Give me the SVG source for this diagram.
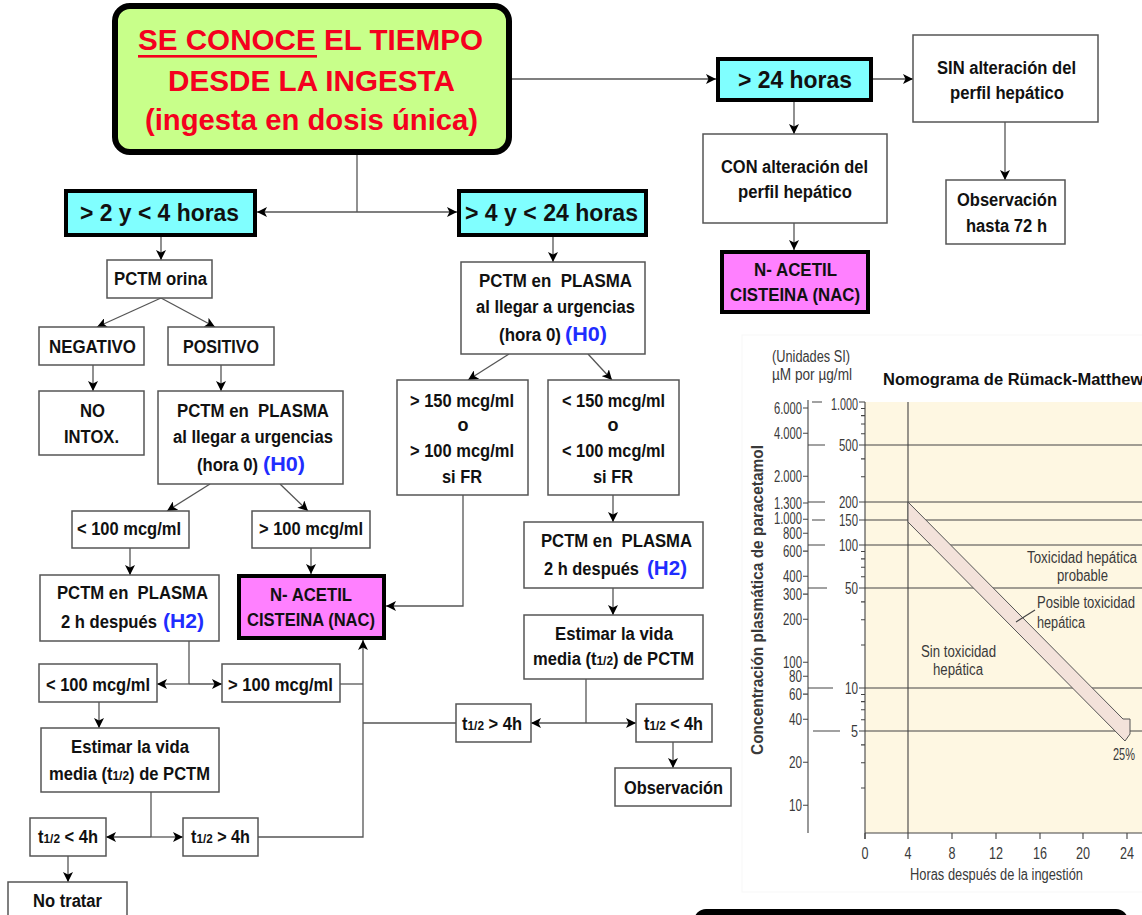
<svg xmlns="http://www.w3.org/2000/svg" width="1142" height="915" viewBox="0 0 1142 915">
<defs>
  <marker id="ah" viewBox="0 0 10 10" refX="10" refY="5" markerWidth="10" markerHeight="10" markerUnits="userSpaceOnUse" orient="auto">
    <path d="M0,0 L10,5 L0,10 L2.5,5 Z" fill="#000"/>
  </marker>
  <style>
    .box { fill:#fff; stroke:#555; stroke-width:1.5; }
    .cyan { fill:#80ffff; stroke:#000; stroke-width:4; }
    .nac { fill:#ff80ff; stroke:#000; stroke-width:4; }
    .t { font-family:"Liberation Sans Narrow","Liberation Sans",Arial,sans-serif; font-weight:700; font-size:18px; fill:#111; }
    .big { font-family:"Liberation Sans",Arial,sans-serif; font-weight:700; font-size:24px; fill:#111; }
    .hb { font-family:"Liberation Sans",Arial,sans-serif; font-weight:700; font-size:21px; fill:#1f2dff; }
    .ttl { font-family:"Liberation Sans",Arial,sans-serif; font-weight:700; font-size:30px; fill:#f5001e; }
    .c { fill:none; stroke:#555; stroke-width:1.3; }
    .a { fill:none; stroke:#555; stroke-width:1.3; marker-end:url(#ah); }
    .n { font-family:"Liberation Sans",Arial,sans-serif; font-size:16px; fill:#3a3a3a; }
    .g { fill:none; stroke:#444; stroke-width:1.1; }
  </style>
</defs>
<rect width="1142" height="915" fill="#fff"/>

<!-- connectors -->
<g id="connectors">
  <path class="a" d="M512,79 H716"/>
  <path class="a" d="M873,79 H913"/>
  <path class="a" d="M1005,122 V180"/>
  <path class="a" d="M794,102 V134"/>
  <path class="a" d="M794,223 V250"/>
  <path class="c" d="M357,155 V212"/>
  <path class="a" d="M357,212 H257"/>
  <path class="a" d="M357,212 H457"/>
  <path class="a" d="M161,237 V260"/>
  <path class="a" d="M161,298 L97,327"/>
  <path class="a" d="M161,298 L215,327"/>
  <path class="a" d="M93,365 V391"/>
  <path class="a" d="M221,365 V391"/>
  <path class="a" d="M210,484 L167,511"/>
  <path class="a" d="M280,484 L308,511"/>
  <path class="a" d="M130,548 V575"/>
  <path class="a" d="M311,548 V574"/>
  <path class="c" d="M189,641 V684"/>
  <path class="a" d="M189,684 H157"/>
  <path class="a" d="M189,684 H222"/>
  <path class="a" d="M99,702 V728"/>
  <path class="c" d="M151,792 V837"/>
  <path class="a" d="M151,837 H106"/>
  <path class="a" d="M151,837 H183"/>
  <path class="a" d="M68,856 V882"/>
  <path class="c" d="M340,684 H363"/>
  <path class="c" d="M456,723 H363"/>
  <path class="a" d="M258,837 H363 V640"/>
  <path class="a" d="M553,237 V262"/>
  <path class="a" d="M509,354 L468,380"/>
  <path class="a" d="M588,354 L612,380"/>
  <path class="a" d="M463,495 V606 H386"/>
  <path class="a" d="M613,495 V522"/>
  <path class="a" d="M613,588 V615"/>
  <path class="c" d="M586,679 V723"/>
  <path class="a" d="M586,723 H531"/>
  <path class="a" d="M586,723 H636"/>
  <path class="a" d="M673,742 V768"/>
</g>

<!-- start node -->
<g id="inicio">
  <rect x="115" y="6" width="394" height="146" rx="15" fill="#c8ff8a" stroke="#000" stroke-width="6"/>
  <text class="ttl" x="138" y="50" textLength="345" lengthAdjust="spacingAndGlyphs">SE CONOCE EL TIEMPO</text>
  <rect x="138" y="55" width="179" height="2.6" fill="#f5001e"/>
  <text class="ttl" x="168" y="91" textLength="287" lengthAdjust="spacingAndGlyphs">DESDE LA INGESTA</text>
  <text class="ttl" x="145" y="130" textLength="333" lengthAdjust="spacingAndGlyphs">(ingesta en dosis única)</text>
</g>

<!-- > 24 h branch -->
<g id="mas24">
  <rect class="cyan" x="718" y="59" width="153" height="41"/>
  <text class="big" x="738" y="88" textLength="114" lengthAdjust="spacingAndGlyphs">&gt; 24 horas</text>
</g>
<g id="sin-alteracion">
  <rect class="box" x="913" y="35" width="185" height="87"/>
  <text class="t" x="937" y="74" textLength="139" lengthAdjust="spacingAndGlyphs">SIN alteración del</text>
  <text class="t" x="950" y="99" textLength="114" lengthAdjust="spacingAndGlyphs">perfil hepático</text>
</g>
<g id="obs72">
  <rect class="box" x="946" y="180" width="119" height="64"/>
  <text class="t" x="957" y="206" textLength="100" lengthAdjust="spacingAndGlyphs">Observación</text>
  <text class="t" x="966" y="232" textLength="81" lengthAdjust="spacingAndGlyphs">hasta 72 h</text>
</g>
<g id="con-alteracion">
  <rect class="box" x="703" y="134" width="184" height="89"/>
  <text class="t" x="721" y="173" textLength="147" lengthAdjust="spacingAndGlyphs">CON alteración del</text>
  <text class="t" x="738" y="198" textLength="114" lengthAdjust="spacingAndGlyphs">perfil hepático</text>
</g>
<g id="nac-derecha">
  <rect class="nac" x="722" y="252" width="146" height="60"/>
  <text class="t" x="754" y="276" textLength="83" lengthAdjust="spacingAndGlyphs">N- ACETIL</text>
  <text class="t" x="730" y="301" textLength="130" lengthAdjust="spacingAndGlyphs">CISTEINA (NAC)</text>
</g>

<!-- 2-4 h branch -->
<g id="de2a4">
  <rect class="cyan" x="66" y="191" width="189" height="44"/>
  <text class="big" x="80" y="221" textLength="159" lengthAdjust="spacingAndGlyphs">&gt; 2 y &lt; 4 horas</text>
</g>
<g id="orina">
  <rect class="box" x="107" y="260" width="105" height="38"/>
  <text class="t" x="114" y="285" textLength="93" lengthAdjust="spacingAndGlyphs">PCTM orina</text>
</g>
<g id="negativo">
  <rect class="box" x="39" y="327" width="105" height="38"/>
  <text class="t" x="49" y="353" textLength="87" lengthAdjust="spacingAndGlyphs">NEGATIVO</text>
</g>
<g id="positivo">
  <rect class="box" x="168" y="327" width="106" height="38"/>
  <text class="t" x="183" y="353" textLength="76" lengthAdjust="spacingAndGlyphs">POSITIVO</text>
</g>
<g id="no-intox">
  <rect class="box" x="39" y="391" width="105" height="64"/>
  <text class="t" x="80" y="417" textLength="25" lengthAdjust="spacingAndGlyphs">NO</text>
  <text class="t" x="64" y="443" textLength="55" lengthAdjust="spacingAndGlyphs">INTOX.</text>
</g>
<g id="plasma-h0-izq">
  <rect class="box" x="158" y="391" width="185" height="93"/>
  <text class="t" x="177" y="417" textLength="152" lengthAdjust="spacingAndGlyphs">PCTM en&#160; PLASMA</text>
  <text class="t" x="173" y="443" textLength="160" lengthAdjust="spacingAndGlyphs">al llegar a urgencias</text>
  <text class="t" x="197" y="471" textLength="61" lengthAdjust="spacingAndGlyphs">(hora 0)</text>
  <text class="hb" x="263" y="471" textLength="42" lengthAdjust="spacingAndGlyphs">(H0)</text>
</g>
<g id="menor100-a">
  <rect class="box" x="72" y="511" width="117" height="37"/>
  <text class="t" x="77" y="535" textLength="104" lengthAdjust="spacingAndGlyphs">&lt; 100 mcg/ml</text>
</g>
<g id="mayor100-a">
  <rect class="box" x="252" y="511" width="118" height="37"/>
  <text class="t" x="259" y="535" textLength="104" lengthAdjust="spacingAndGlyphs">&gt; 100 mcg/ml</text>
</g>
<g id="plasma-h2-izq">
  <rect class="box" x="40" y="575" width="179" height="66"/>
  <text class="t" x="57" y="599" textLength="151" lengthAdjust="spacingAndGlyphs">PCTM en&#160; PLASMA</text>
  <text class="t" x="61" y="628" textLength="96" lengthAdjust="spacingAndGlyphs">2 h después</text>
  <text class="hb" x="163" y="628" textLength="41" lengthAdjust="spacingAndGlyphs">(H2)</text>
</g>
<g id="nac-izquierda">
  <rect class="nac" x="239" y="576" width="145" height="62"/>
  <text class="t" x="270" y="601" textLength="82" lengthAdjust="spacingAndGlyphs">N- ACETIL</text>
  <text class="t" x="247" y="626" textLength="128" lengthAdjust="spacingAndGlyphs">CISTEINA (NAC)</text>
</g>
<g id="menor100-b">
  <rect class="box" x="39" y="664" width="118" height="38"/>
  <text class="t" x="46" y="691" textLength="104" lengthAdjust="spacingAndGlyphs">&lt; 100 mcg/ml</text>
</g>
<g id="mayor100-b">
  <rect class="box" x="222" y="664" width="118" height="38"/>
  <text class="t" x="228" y="691" textLength="105" lengthAdjust="spacingAndGlyphs">&gt; 100 mcg/ml</text>
</g>
<g id="vida-media-izq">
  <rect class="box" x="41" y="728" width="178" height="64"/>
  <text class="t" x="71" y="753" textLength="118" lengthAdjust="spacingAndGlyphs">Estimar la vida</text>
  <text class="t" x="49" y="780" textLength="161" lengthAdjust="spacingAndGlyphs">media (t<tspan font-size="13">1/2</tspan>) de PCTM</text>
</g>
<g id="t-menor4-izq">
  <rect class="box" x="30" y="818" width="76" height="38"/>
  <text class="t" x="38" y="843" textLength="60" lengthAdjust="spacingAndGlyphs">t<tspan font-size="13">1/2</tspan> &lt; 4h</text>
</g>
<g id="t-mayor4-izq">
  <rect class="box" x="183" y="818" width="75" height="38"/>
  <text class="t" x="191" y="843" textLength="59" lengthAdjust="spacingAndGlyphs">t<tspan font-size="13">1/2</tspan> &gt; 4h</text>
</g>
<g id="no-tratar">
  <rect class="box" x="8" y="882" width="119" height="45"/>
  <text class="t" x="33" y="907" textLength="69" lengthAdjust="spacingAndGlyphs">No tratar</text>
</g>

<!-- 4-24 h branch -->
<g id="de4a24">
  <rect class="cyan" x="459" y="191" width="187" height="44"/>
  <text class="big" x="465" y="221" textLength="173" lengthAdjust="spacingAndGlyphs">&gt; 4 y &lt; 24 horas</text>
</g>
<g id="plasma-h0-centro">
  <rect class="box" x="461" y="262" width="184" height="92"/>
  <text class="t" x="479" y="287" textLength="153" lengthAdjust="spacingAndGlyphs">PCTM en&#160; PLASMA</text>
  <text class="t" x="476" y="313" textLength="159" lengthAdjust="spacingAndGlyphs">al llegar a urgencias</text>
  <text class="t" x="499" y="341" textLength="62" lengthAdjust="spacingAndGlyphs">(hora 0)</text>
  <text class="hb" x="565" y="341" textLength="42" lengthAdjust="spacingAndGlyphs">(H0)</text>
</g>
<g id="mayor150">
  <rect class="box" x="397" y="380" width="131" height="115"/>
  <text class="t" x="410" y="407" textLength="104" lengthAdjust="spacingAndGlyphs">&gt; 150 mcg/ml</text>
  <text class="t" x="463" y="431" text-anchor="middle">o</text>
  <text class="t" x="410" y="457" textLength="104" lengthAdjust="spacingAndGlyphs">&gt; 100 mcg/ml</text>
  <text class="t" x="442" y="483" textLength="40" lengthAdjust="spacingAndGlyphs">si FR</text>
</g>
<g id="menor150">
  <rect class="box" x="548" y="380" width="131" height="115"/>
  <text class="t" x="562" y="407" textLength="103" lengthAdjust="spacingAndGlyphs">&lt; 150 mcg/ml</text>
  <text class="t" x="613" y="431" text-anchor="middle">o</text>
  <text class="t" x="562" y="457" textLength="103" lengthAdjust="spacingAndGlyphs">&lt; 100 mcg/ml</text>
  <text class="t" x="593" y="483" textLength="40" lengthAdjust="spacingAndGlyphs">si FR</text>
</g>
<g id="plasma-h2-der">
  <rect class="box" x="524" y="522" width="179" height="66"/>
  <text class="t" x="541" y="547" textLength="151" lengthAdjust="spacingAndGlyphs">PCTM en&#160; PLASMA</text>
  <text class="t" x="544" y="575" textLength="95" lengthAdjust="spacingAndGlyphs">2 h después</text>
  <text class="hb" x="647" y="575" textLength="40" lengthAdjust="spacingAndGlyphs">(H2)</text>
</g>
<g id="vida-media-der">
  <rect class="box" x="524" y="615" width="179" height="64"/>
  <text class="t" x="555" y="640" textLength="118" lengthAdjust="spacingAndGlyphs">Estimar la vida</text>
  <text class="t" x="533" y="665" textLength="161" lengthAdjust="spacingAndGlyphs">media (t<tspan font-size="13">1/2</tspan>) de PCTM</text>
</g>
<g id="t-mayor4-der">
  <rect class="box" x="456" y="704" width="75" height="38"/>
  <text class="t" x="462" y="730" textLength="60" lengthAdjust="spacingAndGlyphs">t<tspan font-size="13">1/2</tspan> &gt; 4h</text>
</g>
<g id="t-menor4-der">
  <rect class="box" x="636" y="704" width="76" height="38"/>
  <text class="t" x="644" y="730" textLength="59" lengthAdjust="spacingAndGlyphs">t<tspan font-size="13">1/2</tspan> &lt; 4h</text>
</g>
<g id="observacion">
  <rect class="box" x="615" y="768" width="116" height="38"/>
  <text class="t" x="624" y="794" textLength="99" lengthAdjust="spacingAndGlyphs">Observación</text>
</g>

<!-- Rumack-Matthew nomogram -->
<g id="nomograma">
  <rect x="742" y="335" width="410" height="557" fill="#fff" stroke="#f7f7f7" stroke-width="1"/>
  <text class="n" x="772" y="362" textLength="78" lengthAdjust="spacingAndGlyphs">(Unidades SI)</text>
  <text class="n" x="772" y="380" textLength="80" lengthAdjust="spacingAndGlyphs">µM por µg/ml</text>
  <text x="883" y="385" font-family="Liberation Sans, Arial, sans-serif" font-weight="700" font-size="16.5" fill="#111">Nomograma de Rümack-Matthew</text>

  <rect x="865" y="402" width="277" height="431" fill="#fef7e2"/>

  <!-- grid -->
  <path class="g" d="M865,445 H1142 M865,502 H1142 M865,520 H1142 M865,545 H1142 M865,588 H1142 M865,688 H1142 M865,731 H1142"/>
  <path class="g" d="M908,402 V839 M865,833 H1142 M865,402 V839"/>
  <path class="g" d="M865,833 V839 M952,833 V839 M996,833 V839 M1040,833 V839 M1083,833 V839 M1127,833 V839"/>

  <!-- µg/ml axis ticks -->
  <path class="g" d="M859,402 H865 M859,445 H865 M859,502 H865 M859,520 H865 M859,545 H865 M859,588 H865 M859,688 H865 M859,731 H865"/>
  <path class="g" d="M861,408.5 H865 M861,415.6 H865 M861,424 H865 M861,433.7 H865 M861,458.9 H865 M861,476.8 H865 M861,551.5 H865 M861,558.9 H865 M861,567.2 H865 M861,576.7 H865 M861,601.9 H865 M861,619.8 H865 M861,645 H865 M861,694.5 H865 M861,701.6 H865 M861,709.8 H865 M861,719.7 H865 M861,744.9 H865 M861,762.8 H865 M861,788 H865"/>

  <!-- µM axis -->
  <path class="g" d="M808,400 V833"/>
  <path class="g" d="M803,408 H808 M803,433.2 H808 M803,476.3 H808 M803,503 H808 M803,519.3 H808 M803,533.2 H808 M803,551.1 H808 M803,576.2 H808 M803,594.1 H808 M803,619.3 H808 M803,662.3 H808 M803,676.2 H808 M803,694.1 H808 M803,719.2 H808 M803,762.3 H808 M803,805.3 H808"/>
  <path class="g" d="M812,402 H822 M808,445 H825 M808,502 H825 M812,520 H825 M808,545 H825 M808,588 H827 M808,688 H833 M813,731 H840"/>

  <g class="n" text-anchor="end">
    <text x="802" y="414" textLength="28" lengthAdjust="spacingAndGlyphs">6.000</text>
    <text x="802" y="439" textLength="28" lengthAdjust="spacingAndGlyphs">4.000</text>
    <text x="802" y="482" textLength="28" lengthAdjust="spacingAndGlyphs">2.000</text>
    <text x="802" y="509" textLength="28" lengthAdjust="spacingAndGlyphs">1.300</text>
    <text x="802" y="524" textLength="28" lengthAdjust="spacingAndGlyphs">1.000</text>
    <text x="802" y="539" textLength="19" lengthAdjust="spacingAndGlyphs">800</text>
    <text x="802" y="557" textLength="19" lengthAdjust="spacingAndGlyphs">600</text>
    <text x="802" y="582" textLength="19" lengthAdjust="spacingAndGlyphs">400</text>
    <text x="802" y="600" textLength="19" lengthAdjust="spacingAndGlyphs">300</text>
    <text x="802" y="625" textLength="19" lengthAdjust="spacingAndGlyphs">200</text>
    <text x="802" y="668" textLength="19" lengthAdjust="spacingAndGlyphs">100</text>
    <text x="802" y="682" textLength="13" lengthAdjust="spacingAndGlyphs">80</text>
    <text x="802" y="700" textLength="13" lengthAdjust="spacingAndGlyphs">60</text>
    <text x="802" y="725" textLength="13" lengthAdjust="spacingAndGlyphs">40</text>
    <text x="802" y="768" textLength="13" lengthAdjust="spacingAndGlyphs">20</text>
    <text x="802" y="811" textLength="13" lengthAdjust="spacingAndGlyphs">10</text>

    <text x="858" y="410" textLength="27" lengthAdjust="spacingAndGlyphs">1.000</text>
    <text x="858" y="451" textLength="19" lengthAdjust="spacingAndGlyphs">500</text>
    <text x="858" y="508" textLength="19" lengthAdjust="spacingAndGlyphs">200</text>
    <text x="858" y="526" textLength="19" lengthAdjust="spacingAndGlyphs">150</text>
    <text x="858" y="551" textLength="19" lengthAdjust="spacingAndGlyphs">100</text>
    <text x="858" y="594" textLength="13" lengthAdjust="spacingAndGlyphs">50</text>
    <text x="858" y="694" textLength="13" lengthAdjust="spacingAndGlyphs">10</text>
    <text x="858" y="737" textLength="7" lengthAdjust="spacingAndGlyphs">5</text>
  </g>

  <g class="n" text-anchor="middle">
    <text x="865" y="859" textLength="7" lengthAdjust="spacingAndGlyphs">0</text>
    <text x="908" y="859" textLength="7" lengthAdjust="spacingAndGlyphs">4</text>
    <text x="952" y="859" textLength="7" lengthAdjust="spacingAndGlyphs">8</text>
    <text x="996" y="859" textLength="14" lengthAdjust="spacingAndGlyphs">12</text>
    <text x="1040" y="859" textLength="14" lengthAdjust="spacingAndGlyphs">16</text>
    <text x="1083" y="859" textLength="14" lengthAdjust="spacingAndGlyphs">20</text>
    <text x="1127" y="859" textLength="14" lengthAdjust="spacingAndGlyphs">24</text>
  </g>
  <text class="n" x="910" y="880" textLength="173" lengthAdjust="spacingAndGlyphs">Horas después de la ingestión</text>

  <text class="n" font-weight="700" font-size="15" fill="#444" text-anchor="middle" transform="translate(763,600) rotate(-90)" textLength="310" lengthAdjust="spacingAndGlyphs">Concentración plasmática de paracetamol</text>

  <!-- treatment line band -->
  <polygon points="908,502 1123,719 1130,719 1130,734 1125,741 908,522" fill="#f3e2da" stroke="#555" stroke-width="1"/>
  <path class="g" d="M1016,622 L1035,610"/>

  <text class="n" x="1027" y="563" textLength="110" lengthAdjust="spacingAndGlyphs">Toxicidad hepática</text>
  <text class="n" x="1057" y="581" textLength="51" lengthAdjust="spacingAndGlyphs">probable</text>
  <text class="n" x="1037" y="608" textLength="98" lengthAdjust="spacingAndGlyphs">Posible toxicidad</text>
  <text class="n" x="1037" y="628" textLength="48" lengthAdjust="spacingAndGlyphs">hepática</text>
  <text class="n" x="921" y="657" textLength="75" lengthAdjust="spacingAndGlyphs">Sin toxicidad</text>
  <text class="n" x="933" y="675" textLength="50" lengthAdjust="spacingAndGlyphs">hepática</text>
  <text class="n" x="1113" y="760" textLength="22" lengthAdjust="spacingAndGlyphs">25%</text>
</g>

<!-- dark panel edge at bottom right -->
<rect x="694" y="909" width="434" height="40" rx="12" fill="#000"/>
</svg>
